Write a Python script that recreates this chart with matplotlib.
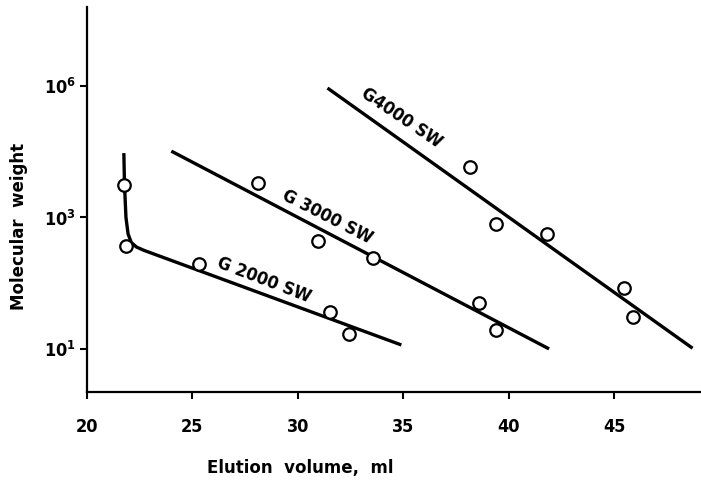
import numpy as np
import matplotlib
matplotlib.use('Agg')
import matplotlib.pyplot as plt

# y values are plotted positions on the (printed) log axis:
# the ticks 10^1, 10^3, 10^6 sit at equal steps in the original figure
ytick_pos = [1, 3, 5]
ytick_lab = ['10$^1$', '10$^3$', '10$^6$']
xticks = [20, 25, 30, 35, 40, 45]

# measured points
g2000_x = [21.75, 21.85, 25.3, 31.5, 32.4]
g2000_y = [3.49, 2.57, 2.29, 1.56, 1.23]
g3000_x = [28.1, 30.95, 33.55, 38.6, 39.4]
g3000_y = [3.52, 2.64, 2.38, 1.70, 1.29]
g4000_x = [38.15, 39.4, 41.8, 45.45, 45.9]
g4000_y = [3.77, 2.90, 2.75, 1.93, 1.49]

# hand drawn calibration curves
fit2000_x = [21.75, 21.78, 21.85, 21.95, 22.1, 22.35, 22.7, 34.9]
fit2000_y = [3.98, 3.5, 3.0, 2.75, 2.62, 2.55, 2.50, 1.06]
fit3000_x = [24.0, 41.9]
fit3000_y = [4.01, 1.00]
fit4000_x = [31.4, 48.7]
fit4000_y = [4.97, 1.01]

plt.rcParams['font.family'] = ['DejaVu Sans']
plt.rcParams['font.weight'] = 'bold'
plt.rcParams['font.stretch'] = 'condensed'
plt.rcParams['mathtext.default'] = 'bf'

fig = plt.figure(figsize=(7.01, 4.82), dpi=100)
ax = fig.add_axes([0.124, 0.187, 0.876, 0.798])

for fx, fy in [(fit2000_x, fit2000_y), (fit3000_x, fit3000_y), (fit4000_x, fit4000_y)]:
    ax.plot(fx, fy, color='black', lw=2.4, solid_capstyle='butt', zorder=2)
for px, py in [(g2000_x, g2000_y), (g3000_x, g3000_y), (g4000_x, g4000_y)]:
    ax.plot(px, py, 'o', ms=9, mfc='white', mec='black', mew=1.6, zorder=3)

ax.text(28.4, 2.05, 'G 2000 SW', rotation=-21, ha='center', va='center', fontsize=13, fontweight='bold')
ax.text(31.4, 3.0, 'G 3000 SW', rotation=-27, ha='center', va='center', fontsize=13, fontweight='bold')
ax.text(34.9, 4.52, 'G4000 SW', rotation=-34, ha='center', va='center', fontsize=13, fontweight='bold')

ax.set_xlim(20, 49.1)
ax.set_ylim(0.346, 6.2)
ax.set_xticks(xticks)
ax.set_yticks(ytick_pos)
ax.set_yticklabels(ytick_lab)
ax.tick_params(axis='x', length=5, width=1.5, pad=14, labelsize=13)
ax.tick_params(axis='y', length=5, width=1.5, pad=3, labelsize=13)

for s in ['top', 'right']:
    ax.spines[s].set_visible(False)
for s in ['left', 'bottom']:
    ax.spines[s].set_linewidth(1.6)

ax.set_xlabel('Elution  volume,  ml', fontsize=12, fontweight='bold', fontstretch='normal')
ax.xaxis.set_label_coords(0.347, -0.175)
ax.set_ylabel('Molecular  weight', fontsize=12, fontweight='bold', fontstretch='normal')
ax.yaxis.set_label_coords(-0.096, 0.43)

fig.savefig('out.png', dpi=100)
